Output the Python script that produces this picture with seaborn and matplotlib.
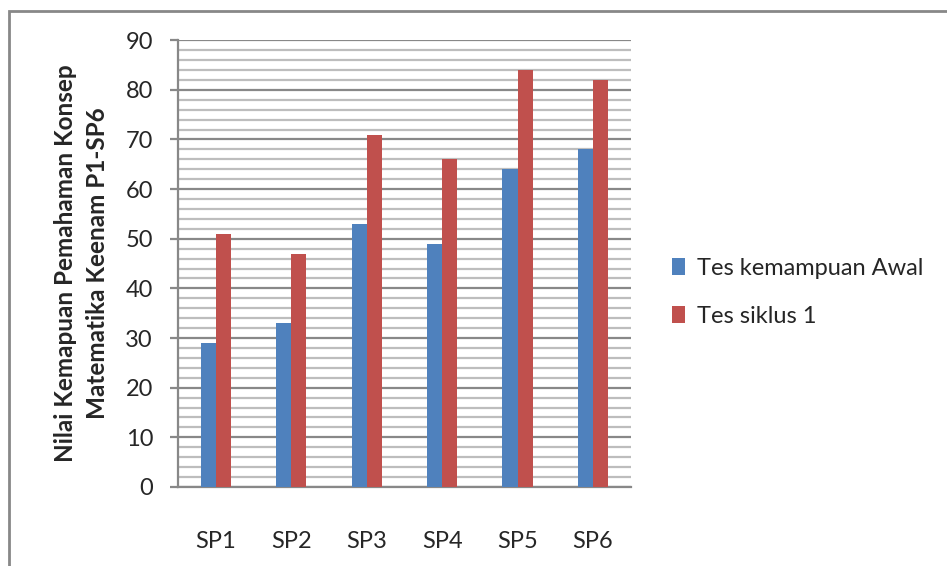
import matplotlib
matplotlib.use("Agg")
import matplotlib.pyplot as plt
import seaborn as sns
import pandas as pd
from matplotlib.patches import Rectangle
from matplotlib.ticker import MultipleLocator

categories = ["SP1", "SP2", "SP3", "SP4", "SP5", "SP6"]
awal = [29, 33, 53, 49, 64, 68]
siklus1 = [51, 47, 71, 66, 84, 82]
series_names = ["Tes kemampuan Awal", "Tes siklus 1"]

df = pd.DataFrame({
    "kategori": categories * 2,
    "nilai": awal + siklus1,
    "seri": [series_names[0]] * len(categories) + [series_names[1]] * len(categories),
})

sns.set_style("white")
plt.rcParams["font.family"] = ["Lato", "DejaVu Sans"]

fig = plt.figure(figsize=(9.47, 5.66), dpi=100)
ax = fig.add_axes([0.188, 0.1396, 0.478, 0.7894])

sns.barplot(data=df, x="kategori", y="nilai", hue="seri", ax=ax,
            palette=["#4f81bd", "#c0504d"], width=0.4, gap=0, saturation=1,
            edgecolor="none", zorder=3)

ax.set_ylim(0, 90)
ax.set_xlim(-0.5, 5.5)
ax.yaxis.set_major_locator(MultipleLocator(10))
ax.yaxis.set_minor_locator(MultipleLocator(2))
ax.grid(which="minor", axis="y", color="#bdbdbd", linewidth=1.6, zorder=0)
ax.grid(which="major", axis="y", color="#888888", linewidth=1.6, zorder=0)
ax.set_axisbelow(True)

for s in ["top", "right"]:
    ax.spines[s].set_visible(False)
for s in ["left", "bottom"]:
    ax.spines[s].set_color("#888888")
    ax.spines[s].set_linewidth(1.6)

ax.tick_params(axis="y", which="major", left=True, length=6, width=1.6,
               color="#888888", labelsize=17, pad=12)
ax.tick_params(axis="y", which="minor", left=False)
ax.tick_params(axis="x", bottom=False, labelsize=17, pad=28)

ax.set_xlabel("")
ax.set_ylabel("Nilai Kemapuan Pemahaman Konsep\nMatematika Keenam P1-SP6",
              fontsize=17.5, fontweight="bold", labelpad=12, linespacing=1.45)

handles, labels = ax.get_legend_handles_labels()
ax.legend(handles, labels, loc="center left", bbox_to_anchor=(1.045, 0.436),
          frameon=False, fontsize=17, handlelength=0.55, handleheight=0.75,
          labelspacing=1.15, handletextpad=0.5)

fig.patches.append(Rectangle((9 / 947, -0.05), 1.1, 1 - 11 / 566 + 0.05,
                             transform=fig.transFigure, fill=False,
                             edgecolor="#888888", linewidth=2))

fig.savefig("out.png", dpi=100)
